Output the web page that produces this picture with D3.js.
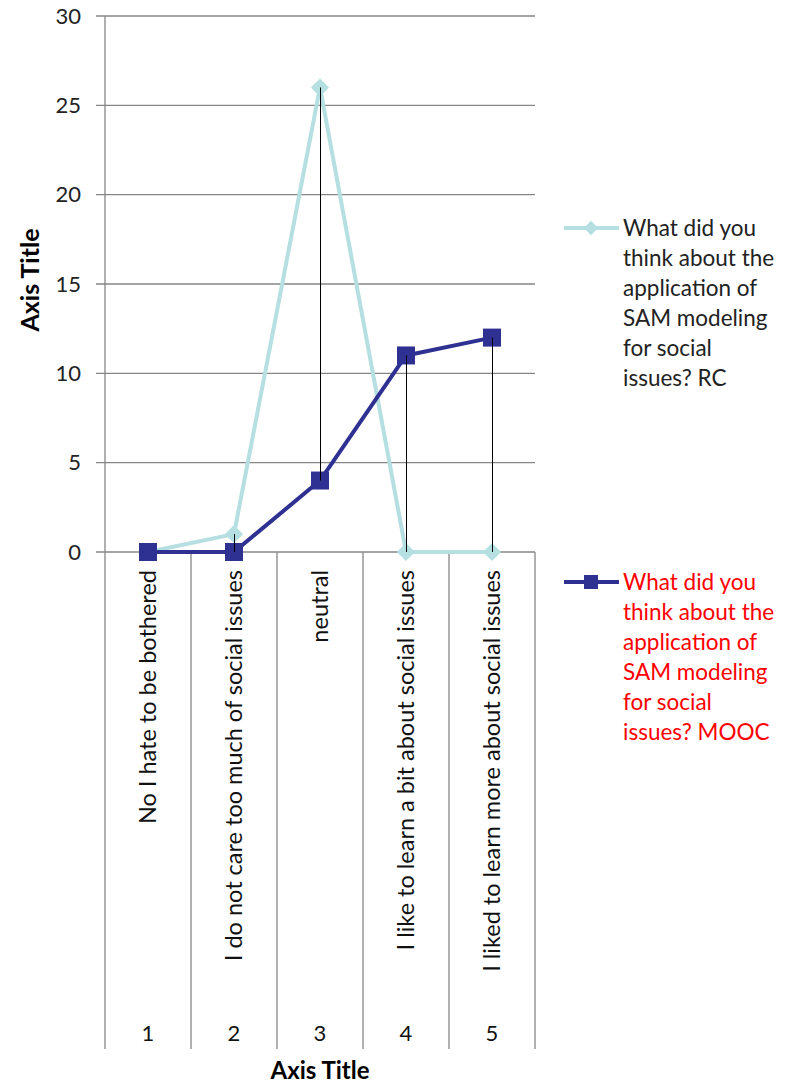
<!DOCTYPE html>
<html><head><meta charset="utf-8">
<script src="https://cdn.jsdelivr.net/npm/d3@7"></script>
<style>body{margin:0;background:#fff}svg{display:block}text{font-family:Lato,"Open Sans",sans-serif}</style>
</head><body>
<svg id="c" width="789" height="1083"></svg>
<script>
const categories = ["1","2","3","4","5"];
const catLabels = ["No I hate to be bothered","I do not care too much of social issues","neutral","I like to learn a bit about social issues","I liked to learn more about social issues"];
const rcValues = [0,1,26,0,0];
const moocValues = [0,0,4,11,12];
const yTicks = [0,5,10,15,20,25,30];
const rcName = ["What did you","think about the","application of","SAM modeling","for social","issues? RC"];
const moocName = ["What did you","think about the","application of","SAM modeling","for social","issues? MOOC"];

const svg = d3.select("#c");
const L = 105, R = 535, T = 16, B = 552, BOT = 1049;
const x = d3.scaleBand().domain(categories).range([L, R]);
const y = d3.scaleLinear().domain([0, 30]).range([B, T]);
const grid = "#868686";

// horizontal gridlines
svg.append("g").selectAll("line").data(yTicks).join("line")
  .attr("x1", L - 9).attr("x2", R).attr("y1", d => y(d)).attr("y2", d => y(d))
  .attr("stroke", grid).attr("stroke-width", 1.3);
// y axis line
svg.append("line").attr("x1", L).attr("x2", L).attr("y1", T).attr("y2", B).attr("stroke", grid).attr("stroke-width", 1.3);
// y tick labels
svg.append("g").selectAll("text").data(yTicks).join("text")
  .attr("x", 81).attr("y", d => y(d)).attr("dy", "0.35em").attr("text-anchor", "end")
  .attr("font-size", 22).attr("fill", "#222").text(d => d);
// category boundary lines below axis
const bounds = categories.map(c => x(c)).concat([R]);
svg.append("g").selectAll("line").data(bounds).join("line")
  .attr("x1", d => d).attr("x2", d => d).attr("y1", B).attr("y2", BOT)
  .attr("stroke", grid).attr("stroke-width", 1.3);
// category labels rotated
svg.append("g").selectAll("text").data(categories).join("text")
  .attr("transform", (d) => `translate(${x(d) + x.bandwidth()/2},570) rotate(-90)`)
  .attr("text-anchor", "end").attr("dy", "0.35em").attr("font-size", 23.5).attr("fill", "#111")
  .text((d, i) => catLabels[i]);
// category numbers
svg.append("g").selectAll("text").data(categories).join("text")
  .attr("x", d => x(d) + x.bandwidth()/2).attr("y", 1041).attr("text-anchor", "middle")
  .attr("font-size", 22).attr("fill", "#111").text(d => d);
// axis titles
svg.append("text").attr("x", 320).attr("y", 1079).attr("text-anchor", "middle")
  .attr("font-size", 24).attr("font-weight", "bold").text("Axis Title");
svg.append("text").attr("transform", `translate(39,${(T+B)/2 - 4}) rotate(-90)`).attr("text-anchor", "middle")
  .attr("font-size", 25).attr("font-weight", "bold").text("Axis Title");

const cx = d => x(d) + x.bandwidth()/2;
const rcColor = "#b5dfe1", moocColor = "#2e3192";
const line = d3.line().x(d => cx(d[0])).y(d => y(d[1]));
// RC series
svg.append("path").datum(categories.map((c,i)=>[c, rcValues[i]])).attr("d", line)
  .attr("fill","none").attr("stroke", rcColor).attr("stroke-width", 4).attr("stroke-linejoin","round");
const diamond = d3.symbol().type(d3.symbolDiamond2).size(210);
svg.append("g").selectAll("path").data(categories).join("path")
  .attr("transform", (d,i) => `translate(${cx(d)},${y(rcValues[i])})`).attr("d", diamond).attr("fill", rcColor);
// MOOC series
svg.append("path").datum(categories.map((c,i)=>[c, moocValues[i]])).attr("d", line)
  .attr("fill","none").attr("stroke", moocColor).attr("stroke-width", 4).attr("stroke-linejoin","round");
svg.append("g").selectAll("rect").data(categories).join("rect")
  .attr("x", d => cx(d) - 9).attr("y", (d,i) => y(moocValues[i]) - 9)
  .attr("width", 18).attr("height", 18).attr("fill", moocColor);
// high-low lines
svg.append("g").selectAll("line").data(categories).join("line")
  .attr("x1", d => Math.round(cx(d)) + 0.5).attr("x2", d => Math.round(cx(d)) + 0.5)
  .attr("y1", (d,i) => y(Math.max(rcValues[i], moocValues[i])))
  .attr("y2", (d,i) => y(Math.min(rcValues[i], moocValues[i])))
  .attr("stroke", "#000").attr("stroke-width", 1);

// legend
function legend(y0, color, names, textColor, square) {
  const g = svg.append("g");
  g.append("line").attr("x1", 564).attr("x2", 619).attr("y1", y0).attr("y2", y0)
    .attr("stroke", color).attr("stroke-width", 4);
  if (square) g.append("rect").attr("x", 584).attr("y", y0 - 7).attr("width", 14).attr("height", 14).attr("fill", color);
  else g.append("path").attr("transform", `translate(591,${y0})`).attr("d", d3.symbol().type(d3.symbolDiamond2).size(130)).attr("fill", color);
  g.selectAll("text").data(names).join("text")
    .attr("x", 623).attr("y", (d,i) => y0 + i*30).attr("dy", "0.35em")
    .attr("font-size", 22.5).attr("fill", textColor).text(d => d);
}
legend(228, rcColor, rcName, "#222", false);
legend(582, moocColor, moocName, "#ff0000", true);
</script>
</body></html>
